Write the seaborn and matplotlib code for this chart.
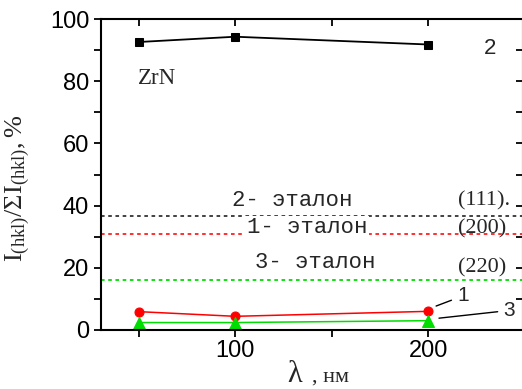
import numpy as np
import pandas as pd
import matplotlib
matplotlib.use("Agg")
import matplotlib.pyplot as plt
import matplotlib.lines as mlines
import seaborn as sns
from matplotlib.ticker import MultipleLocator

# ---- data ----
wavelength = [50, 100, 200]
series_2 = [92.6, 94.3, 91.8]   # (111)
series_1 = [5.9, 4.4, 6.0]      # (200)
series_3 = [2.4, 2.4, 3.0]      # (220)
etalon_2 = 36.8
etalon_1 = 31.0
etalon_3 = 16.0
y_ticks = [0, 20, 40, 60, 80, 100]
x_ticks = [100, 200]

sns.set_style("ticks")
plt.rcParams['font.family'] = ['Liberation Sans', 'DejaVu Sans']
plt.rcParams['mathtext.fontset'] = 'custom'
plt.rcParams['mathtext.rm'] = 'Liberation Serif'
plt.rcParams['mathtext.it'] = 'Liberation Serif:italic'

W, H = 522, 389
fig = plt.figure(figsize=(W/100, H/100), dpi=100)
ax = fig.add_axes([101/W, 59/H, 422/W, 311/H])

df = pd.DataFrame({"x": wavelength, "s2": series_2, "s1": series_1, "s3": series_3})
sns.lineplot(data=df, x="x", y="s2", ax=ax, color="black", marker="s", markersize=6,
             markeredgecolor="black", linewidth=1.3)
sns.lineplot(data=df, x="x", y="s1", ax=ax, color="#ff0000", marker="o", markersize=6.5,
             markeredgecolor="#ff0000", linewidth=1.1)
sns.lineplot(data=df, x="x", y="s3", ax=ax, color="#00dd00", marker="^", markersize=8,
             markeredgecolor="#00dd00", linewidth=1.1)

ax.axhline(etalon_2, color="#333333", linestyle=(0, (2, 2)), linewidth=1.3, zorder=1)
ax.axhline(etalon_1, color="#ff2020", linestyle=(0, (2, 2)), linewidth=1.3, zorder=1)
ax.axhline(etalon_3, color="#00dd00", linestyle=(0, (2, 2)), linewidth=1.3, zorder=1)

ax.set_xlim(30.5, 249)
ax.set_ylim(0, 100)
ax.set_xticks(x_ticks)
ax.set_yticks(y_ticks)
ax.xaxis.set_minor_locator(MultipleLocator(50))
ax.yaxis.set_minor_locator(MultipleLocator(10))

for s in ax.spines.values():
    s.set_visible(True)
    s.set_linewidth(1.5)
    s.set_color("black")

ax.tick_params(axis='both', which='both', direction='out', length=5, width=1.3,
               labelsize=17, colors='black', right=True, top=True)
ax.tick_params(axis='x', which='major', pad=2)
ax.grid(False)

for t in ax.yaxis.get_major_ticks() + ax.yaxis.get_minor_ticks():
    t.tick2line.set_marker(mlines.TICKLEFT)
for t in ax.xaxis.get_major_ticks() + ax.xaxis.get_minor_ticks():
    t.tick2line.set_marker(mlines.TICKDOWN)

# axis labels
ax.set_xlabel("")
fig.text(295/W, (H-382)/H, "λ", family='Liberation Serif', fontsize=22,
         ha='center', va='baseline')
fig.text(312/W, (H-382)/H, ", нм", family='Liberation Serif', fontsize=16,
         ha='left', va='baseline')
ax.set_ylabel(r'$\mathrm{I_{(hkl)}/\Sigma I_{(hkl)},\%}$', fontsize=19)
ax.yaxis.set_label_coords(-0.163, 0.455)

ax.text(49.5, 81, "ZrN", family='Liberation Serif', fontsize=16.5, ha='left', va='center')
ax.text(228.5, 90.5, "2", fontsize=16, ha='left', va='center')

mono = 'Liberation Mono'
ax.text(98.5, 41.6, "2- эталон", family=mono, fontsize=16, ha='left', va='center')
ax.text(106, 33.0, "1- эталон", family=mono, fontsize=16, ha='left', va='center',
        bbox=dict(facecolor='white', edgecolor='none', pad=1.0), zorder=3)
ax.text(110, 21.6, "3- эталон", family=mono, fontsize=16, ha='left', va='center')

serif = 'Liberation Serif'
ax.text(215.5, 41.6, "(111).", family=serif, fontsize=16, ha='left', va='center')
ax.text(215.5, 32.6, "(200)", family=serif, fontsize=16, ha='left', va='center')
ax.text(215.5, 20.0, "(220)", family=serif, fontsize=16, ha='left', va='center')

ax.annotate("1", xy=(204, 7.7), xytext=(215, 11.0), fontsize=15, ha='left', va='center',
            arrowprops=dict(arrowstyle='-', color='black', lw=1, shrinkA=2, shrinkB=0))
ax.annotate("3", xy=(205.5, 3.8), xytext=(239, 6.3), fontsize=15, ha='left', va='center',
            arrowprops=dict(arrowstyle='-', color='black', lw=1, shrinkA=2, shrinkB=0))

fig.savefig("out.png", dpi=100)
